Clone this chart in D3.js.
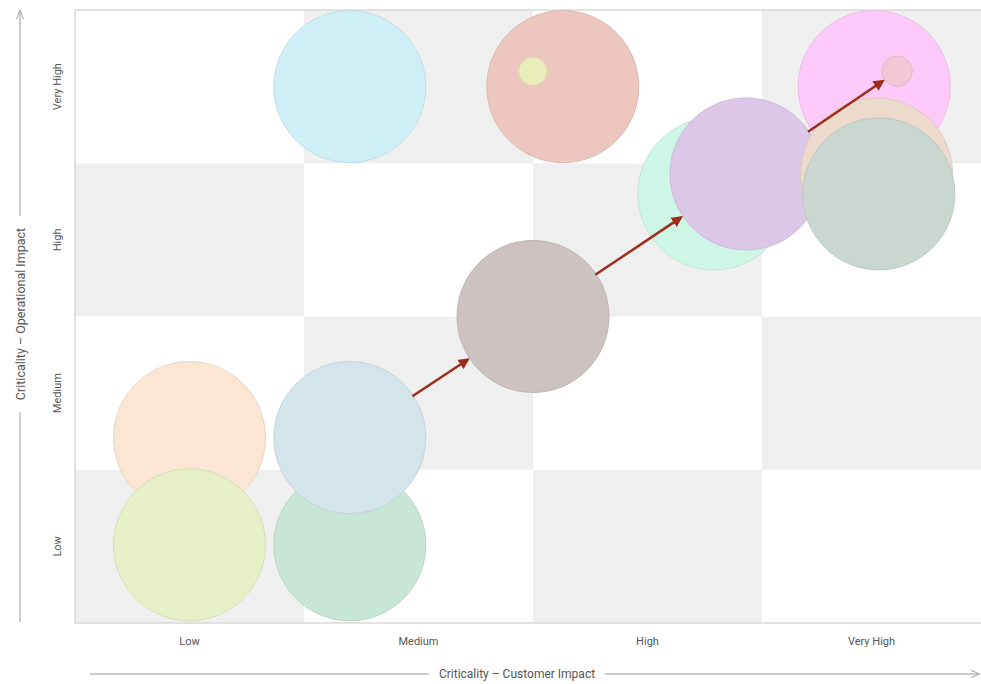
<!DOCTYPE html>
<html><head><meta charset="utf-8">
<script src="https://cdn.jsdelivr.net/npm/d3@7"></script>
<style>
html,body{margin:0;padding:0;background:#fff;}
svg{display:block;font-family:Roboto,"Open Sans",sans-serif;}
</style></head>
<body>
<svg id="chart" width="981" height="684"></svg>
<script>
// ---- data ----
const levels = ["Low", "Medium", "High", "Very High"];
const xTitle = "Criticality – Customer Impact";
const yTitle = "Criticality – Operational Impact";
const bubbleNames = ["Peach","YellowGreen","Green","BlueGrey","Brown","Mint","Purple","Cyan","Salmon","SmallYellow","Pink","Beige","SageGrey","SmallPink"];
const bubbleX    = [0.50, 0.50, 1.20, 1.20, 2.00, 2.79, 2.93, 1.20, 2.13, 2.00, 3.49, 3.50, 3.51, 3.59];
const bubbleY    = [1.21, 0.51, 0.51, 1.21, 2.00, 2.80, 2.93, 3.50, 3.50, 3.60, 3.50, 2.93, 2.80, 3.60];
const bubbleSize = [100, 100, 100, 100, 100, 100, 100, 100, 100, 3.5, 100, 100, 100, 4];
const bubbleColor = ["#fbe6d3","#e7efc6","#c8e6d6","#d3e4eb","#ccc3c0","#cef6e6","#ddc7e9","#cdeff5","#edc6bf","#e9edb9","#fdc9f9","#ecdacd","#cad7d0","#f3c7d6"];
const arrowFrom = [3, 4, 6];
const arrowTo   = [4, 6, 13];

// ---- layout ----
const svg = d3.select("#chart");
const m = {left: 75, top: 10, right: 991, bottom: 623};
const x = d3.scaleLinear().domain([0, 4]).range([m.left, m.right]);
const y = d3.scaleLinear().domain([0, 4]).range([m.bottom, m.top]);
const r = d3.scaleSqrt().domain([0, 100]).range([0, 76]);
const band = d3.scaleBand().domain(levels).range([m.left, m.right]);
const bandY = d3.scaleBand().domain(levels).range([m.bottom, m.top]);

// checkerboard
const cells = [];
levels.forEach((cx, i) => levels.forEach((cy, j) => cells.push({cx, cy, i, j})));
svg.append("g").selectAll("rect").data(cells).join("rect")
  .attr("x", d => band(d.cx))
  .attr("y", d => bandY(d.cy))
  .attr("width", band.bandwidth())
  .attr("height", bandY.bandwidth())
  .attr("fill", d => (d.i + d.j) % 2 === 0 ? "#efefef" : "#ffffff");

// plot border
svg.append("rect").attr("x", m.left).attr("y", m.top)
  .attr("width", m.right - m.left).attr("height", m.bottom - m.top)
  .attr("fill", "none").attr("stroke", "#d9d9d9").attr("stroke-width", 1.5);

// tick labels
svg.append("g").selectAll("text").data(levels).join("text")
  .attr("x", (d, i) => band(d) + band.bandwidth() / 2 - (i === 3 ? 5 : 0))
  .attr("y", 645)
  .attr("text-anchor", "middle")
  .attr("font-size", 11).attr("fill", "#555")
  .text(d => d);
svg.append("g").selectAll("text").data(levels).join("text")
  .attr("transform", d => `translate(61,${bandY(d) + bandY.bandwidth() / 2}) rotate(-90)`)
  .attr("text-anchor", "middle")
  .attr("font-size", 11).attr("fill", "#555")
  .text(d => d);

// axis titles with arrow lines
const defs = svg.append("defs");
defs.append("marker").attr("id", "gArrow").attr("viewBox", "0 0 10 10")
  .attr("refX", 9).attr("refY", 5).attr("markerWidth", 6).attr("markerHeight", 6)
  .attr("orient", "auto")
  .append("path").attr("d", "M0,1 L10,5 L0,9").attr("fill", "none").attr("stroke", "#aaa").attr("stroke-width", 1.2);
defs.append("marker").attr("id", "rArrow").attr("viewBox", "0 0 10 10")
  .attr("refX", 8).attr("refY", 5).attr("markerWidth", 4.5).attr("markerHeight", 4.5)
  .attr("orient", "auto").attr("markerUnits", "strokeWidth")
  .append("path").attr("d", "M0,0 L10,5 L0,10 z").attr("fill", "#9e2c1b");

const xc = 517;
const xt = svg.append("text").attr("x", xc).attr("y", 678)
  .attr("text-anchor", "middle").attr("font-size", 12).attr("fill", "#555").text(xTitle);
const xw = xt.node().getComputedTextLength();
svg.append("line").attr("x1", 90).attr("x2", xc - xw / 2 - 10).attr("y1", 674).attr("y2", 674)
  .attr("stroke", "#bbb").attr("stroke-width", 1.5);
svg.append("line").attr("x1", xc + xw / 2 + 10).attr("x2", 979).attr("y1", 674).attr("y2", 674)
  .attr("stroke", "#bbb").attr("stroke-width", 1.5).attr("marker-end", "url(#gArrow)");

const ycen = 314;
const yt = svg.append("text").attr("transform", `translate(25,${ycen}) rotate(-90)`)
  .attr("text-anchor", "middle").attr("font-size", 12.5).attr("fill", "#555").text(yTitle);
const yw = yt.node().getComputedTextLength();
svg.append("line").attr("x1", 20).attr("x2", 20).attr("y1", 622).attr("y2", ycen + yw / 2 + 12)
  .attr("stroke", "#bbb").attr("stroke-width", 1.5);
svg.append("line").attr("x1", 20).attr("x2", 20).attr("y1", ycen - yw / 2 - 12).attr("y2", 11)
  .attr("stroke", "#bbb").attr("stroke-width", 1.5).attr("marker-end", "url(#gArrow)");

// bubbles
const bubbles = bubbleNames.map((n, i) => ({n, x: bubbleX[i], y: bubbleY[i], s: bubbleSize[i], c: bubbleColor[i]}));
svg.append("g").selectAll("circle").data(bubbles).join("circle")
  .attr("cx", d => x(d.x)).attr("cy", d => y(d.y)).attr("r", d => r(d.s))
  .attr("fill", d => d.c)
  .attr("stroke", d => d3.color(d.c).darker(0.2))
  .attr("stroke-width", 1);

// arrows
const arrows = arrowFrom.map((f, i) => {
  const a = bubbles[f], b = bubbles[arrowTo[i]];
  const x1 = x(a.x), y1 = y(a.y), x2 = x(b.x), y2 = y(b.y);
  const L = Math.hypot(x2 - x1, y2 - y1);
  const ux = (x2 - x1) / L, uy = (y2 - y1) / L;
  const r1 = r(a.s) - 1, r2 = r(b.s) + 2;
  return {x1: x1 + ux * r1, y1: y1 + uy * r1, x2: x2 - ux * r2, y2: y2 - uy * r2};
});
svg.append("g").selectAll("line").data(arrows).join("line")
  .attr("x1", d => d.x1).attr("y1", d => d.y1).attr("x2", d => d.x2).attr("y2", d => d.y2)
  .attr("stroke", "#9e2c1b").attr("stroke-width", 2.5)
  .attr("marker-end", "url(#rArrow)");
</script>
</body></html>
